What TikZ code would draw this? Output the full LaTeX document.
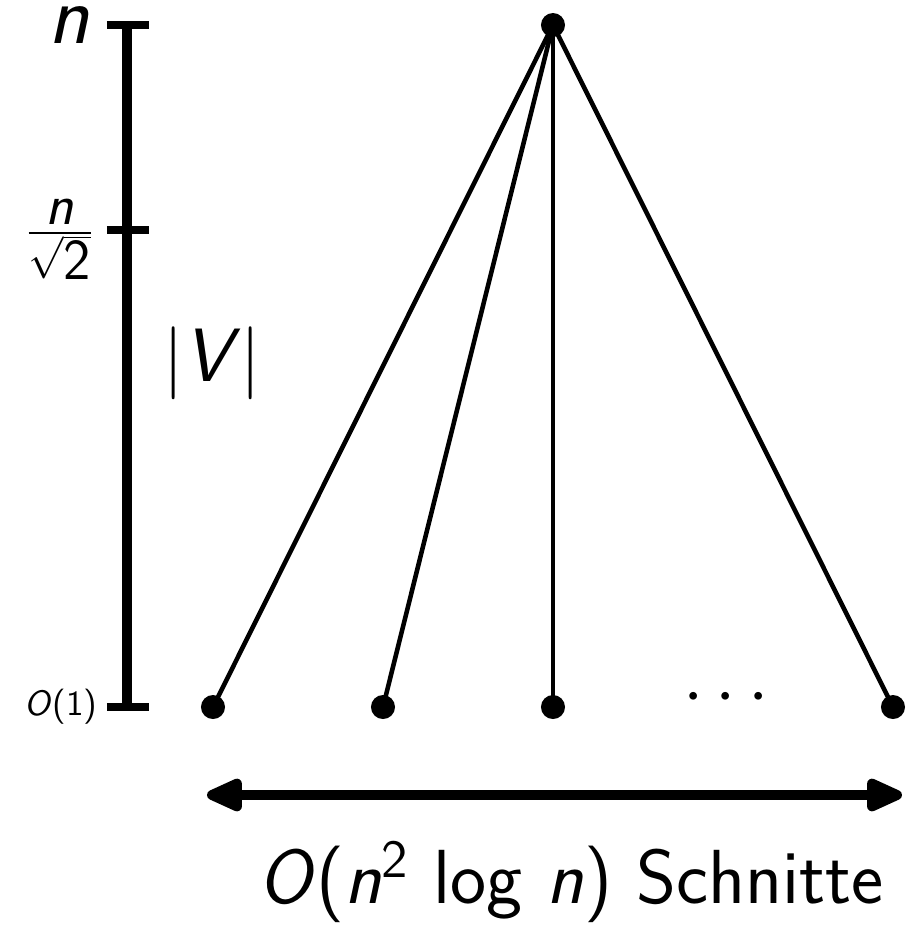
\documentclass[tikz,border=0pt]{standalone}
\usetikzlibrary{positioning, arrows.meta}
\newcommand{\vn}{\textit{n}}

\begin{document}
\begin{tikzpicture}[x=0.01cm, y=-0.01cm, font=\sffamily,
    dot/.style={circle, fill=black, inner sep=0pt, minimum size=0.24cm},
    edge/.style={line width=1.3pt},
    scalebar/.style={line width=2.6pt},
    tick/.style={line width=2pt},
    big/.style={font=\fontsize{21.5}{26}\selectfont\sffamily},
    small/.style={font=\fontsize{10}{12}\selectfont\sffamily},
    >={Triangle[round, length=4.3mm, width=3.5mm]}]
  \useasboundingbox (0,0) rectangle (911,938);
  % scale on the left
  \coordinate (top) at (127,25);
  \coordinate (mid) at (127,230);
  \coordinate (bot) at (127,707);
  \draw[scalebar] ([yshift=0.035cm]top) -- ([yshift=-0.035cm]bot);
  \foreach \c in {top,mid,bot}
    \draw[tick] ([xshift=-0.2cm]\c) -- ([xshift=0.22cm]\c);
  \node[inner sep=0pt, left=0.37cm of top, font=\fontsize{24}{28}\selectfont\sffamily] (ltop) {\vn};
  \node[inner sep=0pt, left=0.31cm of mid, yshift=-0.09cm, font=\fontsize{16.5}{20}\selectfont\sffamily] (lmid)
    {$\frac{\mbox{\vn}}{\sqrt{\mbox{2}}}$};
  \node[small, inner sep=0pt, left=0.29cm of bot] (lbot) {\textit{O}(1)};
  \node[big] (size) at (212,363) {$|$\textit{V}$|$};

  % the star
  \node[dot] (root) at (553,25) {};
  \node[dot] (s1) at (213,707) {};
  \node[dot] (s2) at (383,707) {};
  \node[dot] (s3) at (553,707) {};
  \node[big] (more) at (726,698) {$\cdots$};
  \node[dot] (s4) at (893,707) {};
  \foreach \s in {s1,s2,s3,s4}
    \draw[edge] (root.center) -- (\s.center);

  % cuts
  \coordinate (al) at (207,795);
  \coordinate (ar) at (902,795);
  \draw[<->, line width=2.8pt] (al) -- (ar);
  \node[font=\fontsize{21.8}{26}\selectfont\sffamily] (cuts) at (571,882)
    {\textit{O}(\vn\textsuperscript{2} log \vn) Schnitte};
\end{tikzpicture}
\end{document}
